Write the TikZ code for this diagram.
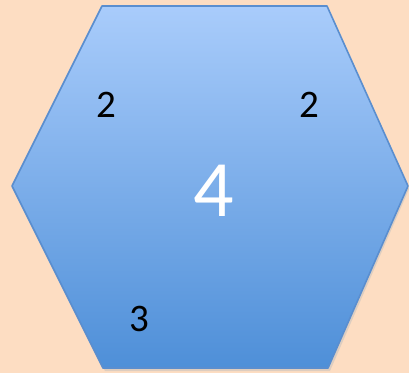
\documentclass[tikz,border=0pt]{standalone}
\usepackage{fontspec}
\setmainfont{Carlito}
\definecolor{bg}{HTML}{FDDDC2}
\definecolor{hextop}{HTML}{A9CCFB}
\definecolor{hexbot}{HTML}{4E8FD8}
\definecolor{hexline}{HTML}{5A8ECF}
\tikzset{
  small/.style={font=\fontsize{39}{39}\selectfont, text=black, inner sep=0pt},
  big/.style={font=\fontsize{80}{80}\selectfont, text=white, inner sep=0pt}
}
\begin{document}
\begin{tikzpicture}[x=1pt,y=-1pt]
\useasboundingbox (0,0) rectangle (409,373);
\fill[bg] (0,0) rectangle (409,373);
% shadow
\fill[black!25,opacity=0.5] (103,8) -- (328,8) -- (409,189) -- (330,371) -- (105,371) -- (14,189) -- cycle;
\shade[top color=hextop, bottom color=hexbot, draw=hexline, line width=1.6pt, line join=round]
  (102,6) -- (327,6) -- (408,186) -- (328,368) -- (103,368) -- (12,186) -- cycle;
\node[small] (a) at (106,105) {2};
\node[small] (b) at (309,105) {2};
\node[small] (c) at (139,319) {3};
\node[big] (d) at (214,191) {4};
\end{tikzpicture}
\end{document}
